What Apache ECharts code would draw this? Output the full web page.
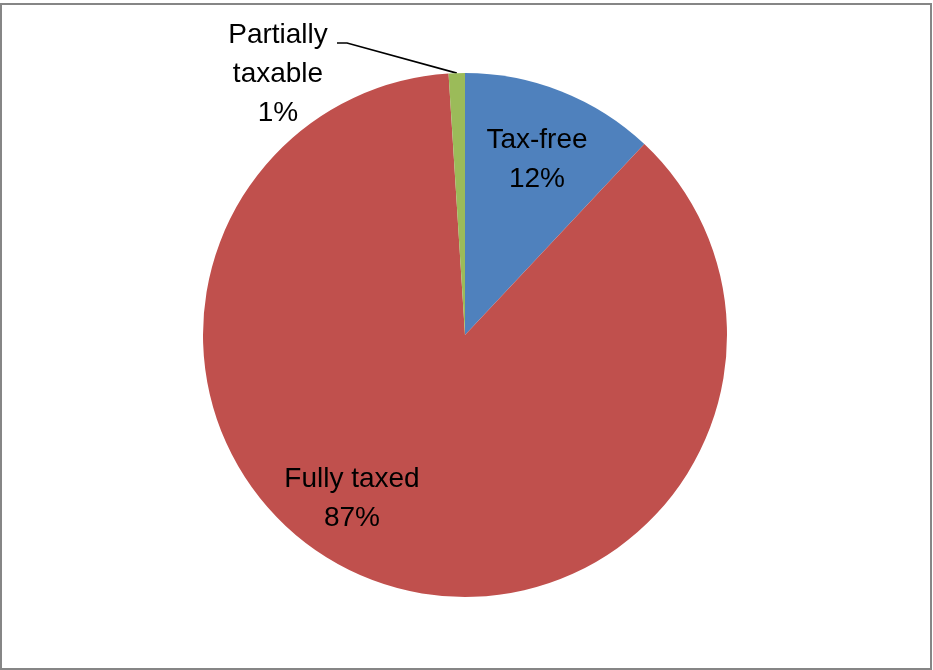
<!DOCTYPE html>
<html>
<head>
<meta charset="utf-8">
<style>
  html, body { margin: 0; padding: 0; background: #fff; }
  #chart { width: 933px; height: 670px; }
</style>
<script src="https://cdn.jsdelivr.net/npm/echarts@6/dist/echarts.min.js"></script>
</head>
<body>
<div id="chart"></div>
<script>
// Share of income by tax treatment (percent)
const categories = ['Tax-free', 'Fully taxed', 'Partially taxable'];
const shares = [12, 87, 1];
const sliceColors = ['#4F81BD', '#C0504D', '#9BBB59'];

// Label anchor points (label centres) and the leader line elbow for the small slice
const labelSpots = [[537, 160], [352, 499], [278, 74]];
const leaderElbow = [[347, 43], [337, 43]];

const chart = echarts.init(document.getElementById('chart'), null, { renderer: 'canvas' });

chart.setOption({
  animation: false,
  graphic: [{
    type: 'rect',
    shape: { x: 1, y: 4, width: 930, height: 665 },
    style: { fill: 'none', stroke: '#868686', lineWidth: 2 },
    silent: true
  }],
  series: [{
    type: 'pie',
    center: [465, 335],
    radius: 262,
    startAngle: 90,
    clockwise: true,
    avoidLabelOverlap: false,
    itemStyle: { borderWidth: 0 },
    emphasis: { disabled: true },
    data: categories.map((name, i) => ({
      name: name,
      value: shares[i],
      itemStyle: { color: sliceColors[i] },
      label: i === 2
        ? { position: 'outside' }
        : { position: 'inside' },
      labelLine: i === 2
        ? { show: true, lineStyle: { color: '#000', width: 1.6 }, length: 10, length2: 10, smooth: false }
        : { show: false }
    })),
    label: {
      show: true,
      formatter: (p) => {
        const words = p.name === 'Partially taxable' ? 'Partially\ntaxable' : p.name;
        return words + '\n' + p.value + '%';
      },
      fontFamily: '"Liberation Sans", Arial, sans-serif',
      fontSize: 28,
      lineHeight: 39,
      color: '#000'
    },
    labelLayout: (params) => {
      const i = params.dataIndex;
      const out = {
        x: labelSpots[i][0],
        y: labelSpots[i][1],
        align: 'center',
        verticalAlign: 'middle'
      };
      if (i === 2 && params.labelLinePoints) {
        const start = params.labelLinePoints[0];
        out.labelLinePoints = [start, leaderElbow[0], leaderElbow[1]];
      }
      return out;
    }
  }]
});
</script>
</body>
</html>
